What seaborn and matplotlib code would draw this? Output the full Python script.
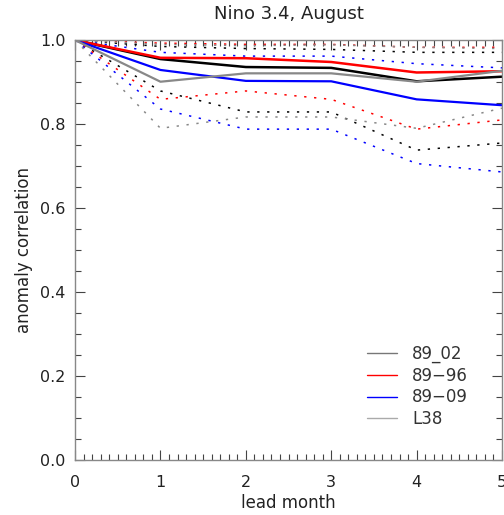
import pandas as pd
import matplotlib.pyplot as plt
import seaborn as sns
from matplotlib.lines import Line2D
from matplotlib.ticker import MultipleLocator

lead = [0, 1, 2, 3, 4, 5]

# anomaly correlation per experiment (solid) with upper/lower bounds (dotted)
acc_89_02 = [1.0, 0.955, 0.936, 0.934, 0.902, 0.913]
up_89_02 = [1.0, 0.985, 0.980, 0.978, 0.971, 0.971]
lo_89_02 = [1.0, 0.879, 0.829, 0.829, 0.738, 0.755]

acc_89_96 = [1.0, 0.958, 0.957, 0.948, 0.923, 0.926]
up_89_96 = [1.0, 0.993, 0.990, 0.990, 0.983, 0.983]
lo_89_96 = [1.0, 0.859, 0.879, 0.859, 0.788, 0.810]

acc_89_09 = [1.0, 0.929, 0.903, 0.902, 0.859, 0.845]
up_89_09 = [1.0, 0.971, 0.962, 0.962, 0.944, 0.934]
lo_89_09 = [1.0, 0.836, 0.788, 0.788, 0.706, 0.686]

acc_l38 = [1.0, 0.901, 0.921, 0.921, 0.901, 0.927]
up_l38 = [1.0, 0.990, 0.987, 0.989, 0.983, 0.980]
lo_l38 = [1.0, 0.790, 0.817, 0.817, 0.790, 0.838]

labels = ["89_02", "89\u221296", "89\u221209", "L38"]
colors = ["black", "#ff0000", "#0000ff", "#888888"]
widths = [1.8, 1.8, 1.6, 1.6]
solid = [acc_89_02, acc_89_96, acc_89_09, acc_l38]
upper = [up_89_02, up_89_96, up_89_09, up_l38]
lower = [lo_89_02, lo_89_96, lo_89_09, lo_l38]

sns.set_style("white")
plt.rcParams['font.family'] = ['DejaVu Sans']

fig = plt.figure(figsize=(5.04, 5.15), dpi=100)
ax = fig.add_axes([0.149, 0.107, 0.847, 0.815])

# dotted bounds first, solid on top
for c, up, lo in zip(colors, upper, lower):
    for band in (up, lo):
        df = pd.DataFrame({"lead": lead, "acc": band})
        sns.lineplot(data=df, x="lead", y="acc", color=c, lw=1.1,
                     linestyle=(0, (1.5, 5)), ax=ax)

for c, w, vals in zip(colors, widths, solid):
    df = pd.DataFrame({"lead": lead, "acc": vals})
    sns.lineplot(data=df, x="lead", y="acc", color=c, lw=w, ax=ax)

ax.set_xlim(0, 5)
ax.set_ylim(0, 1.0)
ax.xaxis.set_major_locator(MultipleLocator(1))
ax.xaxis.set_minor_locator(MultipleLocator(0.1))
ax.yaxis.set_major_locator(MultipleLocator(0.2))
ax.yaxis.set_minor_locator(MultipleLocator(0.05))
ax.yaxis.set_major_formatter(plt.FormatStrFormatter('%.1f'))
ax.tick_params(which='both', direction='in', top=True, right=True,
               bottom=True, left=True,
               color='#444444', width=0.8, labelsize=11.5, pad=7,
               labelcolor='#222222')
ax.tick_params(axis='x', which='major', pad=11)
ax.tick_params(which='major', length=7)
ax.tick_params(which='minor', length=4)
for s in ax.spines.values():
    s.set_color('#888888')
    s.set_linewidth(1.0)

ax.set_xlabel("lead month", fontsize=12, color='#222222', labelpad=3)
ax.set_ylabel("anomaly correlation", fontsize=12, color='#222222', labelpad=5)
ax.set_title("Nino 3.4, August", fontsize=13, color='#222222', pad=15)

handle_colors = ["#777777", "#ff0000", "#0000ff", "#aaaaaa"]
handles = [Line2D([0], [0], color=c, lw=1.0) for c in handle_colors]
ax.legend(handles, labels, loc='lower right', bbox_to_anchor=(0.955, 0.04),
          frameon=False, fontsize=12, handlelength=1.8, handletextpad=0.9,
          labelspacing=0.22, labelcolor='#333333')

fig.savefig("out.png", dpi=100)
